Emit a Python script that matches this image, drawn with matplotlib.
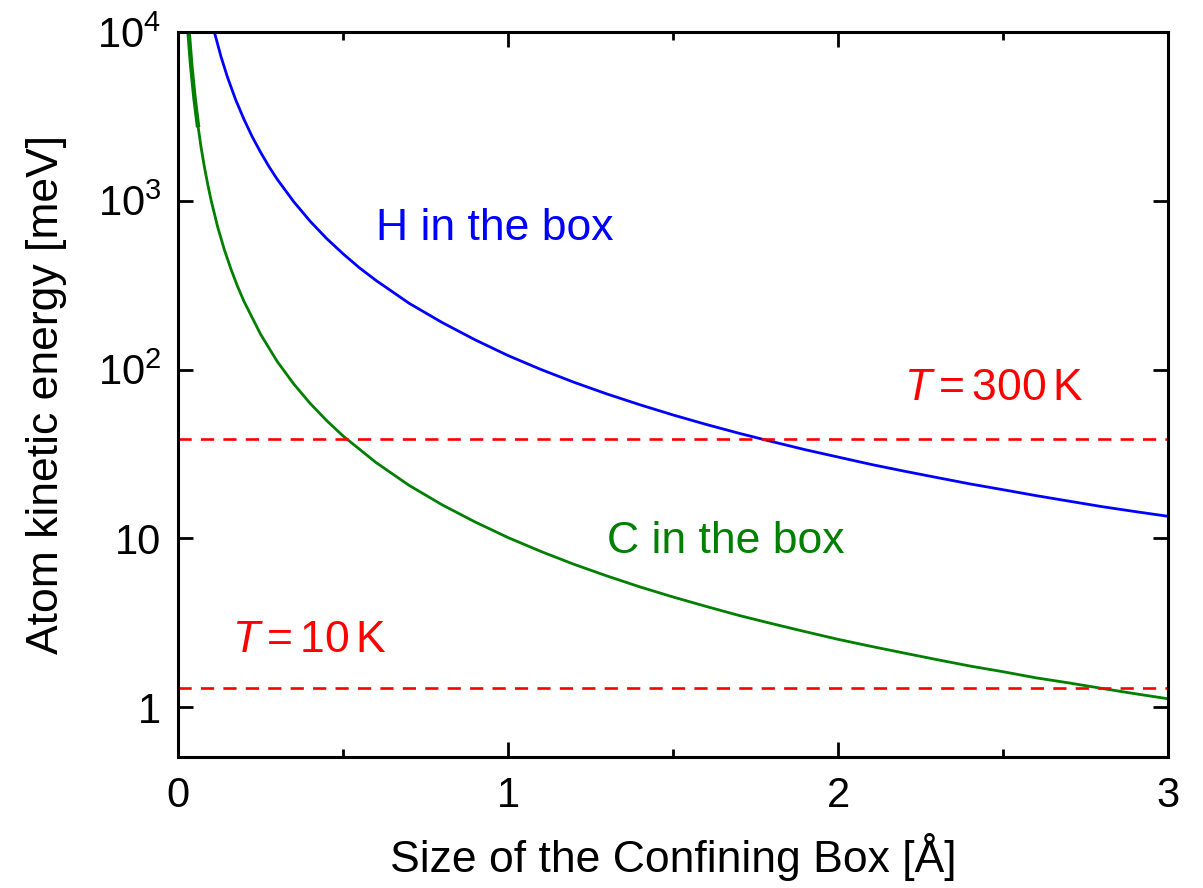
import matplotlib
matplotlib.use("Agg")
import matplotlib.pyplot as plt
from matplotlib.ticker import FixedLocator, FixedFormatter, MultipleLocator

plt.rcParams['font.family'] = ['Liberation Sans', 'DejaVu Sans']
plt.rcParams['mathtext.fontset'] = 'custom'
plt.rcParams['mathtext.rm'] = 'Liberation Sans'
plt.rcParams['mathtext.it'] = 'Liberation Sans:italic'

# box size [Angstrom] and kinetic energy [meV]
box_h = [0.11, 0.13, 0.15, 0.175, 0.2, 0.225, 0.25, 0.275, 0.3, 0.35, 0.4,
         0.45, 0.5, 0.55, 0.6, 0.7, 0.8, 0.9, 1.0, 1.1, 1.2, 1.3, 1.4, 1.5,
         1.6, 1.7, 1.8, 1.9, 2.0, 2.1, 2.2, 2.3, 2.4, 2.5, 2.6, 2.7, 2.8, 2.9,
         3.0]
energy_h = [10000, 7160, 5380, 3950, 3030, 2390, 1940, 1600, 1345, 990, 757,
            598, 485, 400, 337, 247, 190, 150, 121, 100, 84, 71.6, 61.8, 53.8,
            47.3, 41.9, 37.4, 33.5, 30.3, 27.4, 25.0, 22.9, 21.0, 19.4, 17.9,
            16.6, 15.4, 14.4, 13.5]

box_c = [0.032, 0.04, 0.05, 0.06, 0.07, 0.08, 0.09, 0.1, 0.12, 0.14, 0.16,
         0.18, 0.2, 0.25, 0.3, 0.35, 0.4, 0.45, 0.5, 0.6, 0.7, 0.8, 0.9, 1.0,
         1.1, 1.2, 1.3, 1.4, 1.5, 1.6, 1.7, 1.8, 1.9, 2.0, 2.1, 2.2, 2.3, 2.4,
         2.5, 2.6, 2.7, 2.8, 2.9, 3.0]
energy_c = [10000, 6310, 4040, 2810, 2060, 1580, 1250, 1010, 700, 515, 395,
            312, 253, 162, 112, 82.4, 63.1, 49.9, 40.4, 28.1, 20.6, 15.8, 12.5,
            10.1, 8.35, 7.01, 5.98, 5.15, 4.49, 3.95, 3.49, 3.12, 2.80, 2.52,
            2.29, 2.09, 1.91, 1.75, 1.62, 1.49, 1.39, 1.29, 1.20, 1.12]

# thermal energy 3/2 kT [meV]
thermal_300k = 38.8
thermal_10k = 1.29

ytick_vals = [1, 10, 100, 1000, 10000]
ytick_labels = ['1', '10', r'$10^2$', r'$10^3$', r'$10^4$']
xtick_vals = [0, 1, 2, 3]

fig = plt.figure(figsize=(12.03, 8.88), dpi=100)
ax = fig.add_axes([0.148, 0.1475, 0.823, 0.8165])

ax.plot(box_h, energy_h, color='#0000ff', lw=2.0)
ax.plot(box_c, energy_c, color='#007f00', lw=2.0)
ax.plot(box_c[:4], energy_c[:4], color='#007f00', lw=3.2)

ax.axhline(thermal_300k, color='#ff0000', lw=1.9, ls=(0, (5, 3.5)))
ax.axhline(thermal_10k, color='#ff0000', lw=1.9, ls=(0, (5, 3.5)))

ax.set_yscale('log')
ax.set_xlim(0, 3)
ax.set_ylim(0.506, 10000)

ax.yaxis.set_major_locator(FixedLocator(ytick_vals))
ax.yaxis.set_major_formatter(FixedFormatter(ytick_labels))
ax.yaxis.set_minor_locator(FixedLocator([]))
ax.set_xticks(xtick_vals)
ax.xaxis.set_minor_locator(MultipleLocator(0.5))

ax.tick_params(which='both', direction='in', top=True, right=True, width=2.0,
               labelsize=30)
ax.tick_params(which='major', length=11)
ax.tick_params(which='minor', length=6)
ax.tick_params(axis='x', pad=14)
ax.tick_params(axis='y', pad=12)
for sp in ax.spines.values():
    sp.set_linewidth(2.2)

ax.set_xlabel('Size of the Confining Box [Å]', fontsize=32, labelpad=12)
ax.set_ylabel('Atom kinetic energy [meV]', fontsize=32, labelpad=22)

ax.text(0.6, 683, 'H in the box', color='#0000ff', fontsize=32, va='center')
ax.text(1.3, 9.6, 'C in the box', color='#007f00', fontsize=32, va='center')
ax.text(2.2, 77, r'$T = 300\,\mathrm{K}$', color='#ff0000', fontsize=32,
        va='center')
ax.text(0.164, 2.49, r'$T = 10\,\mathrm{K}$', color='#ff0000', fontsize=32,
        va='center')

fig.savefig('out.png', dpi=100)
